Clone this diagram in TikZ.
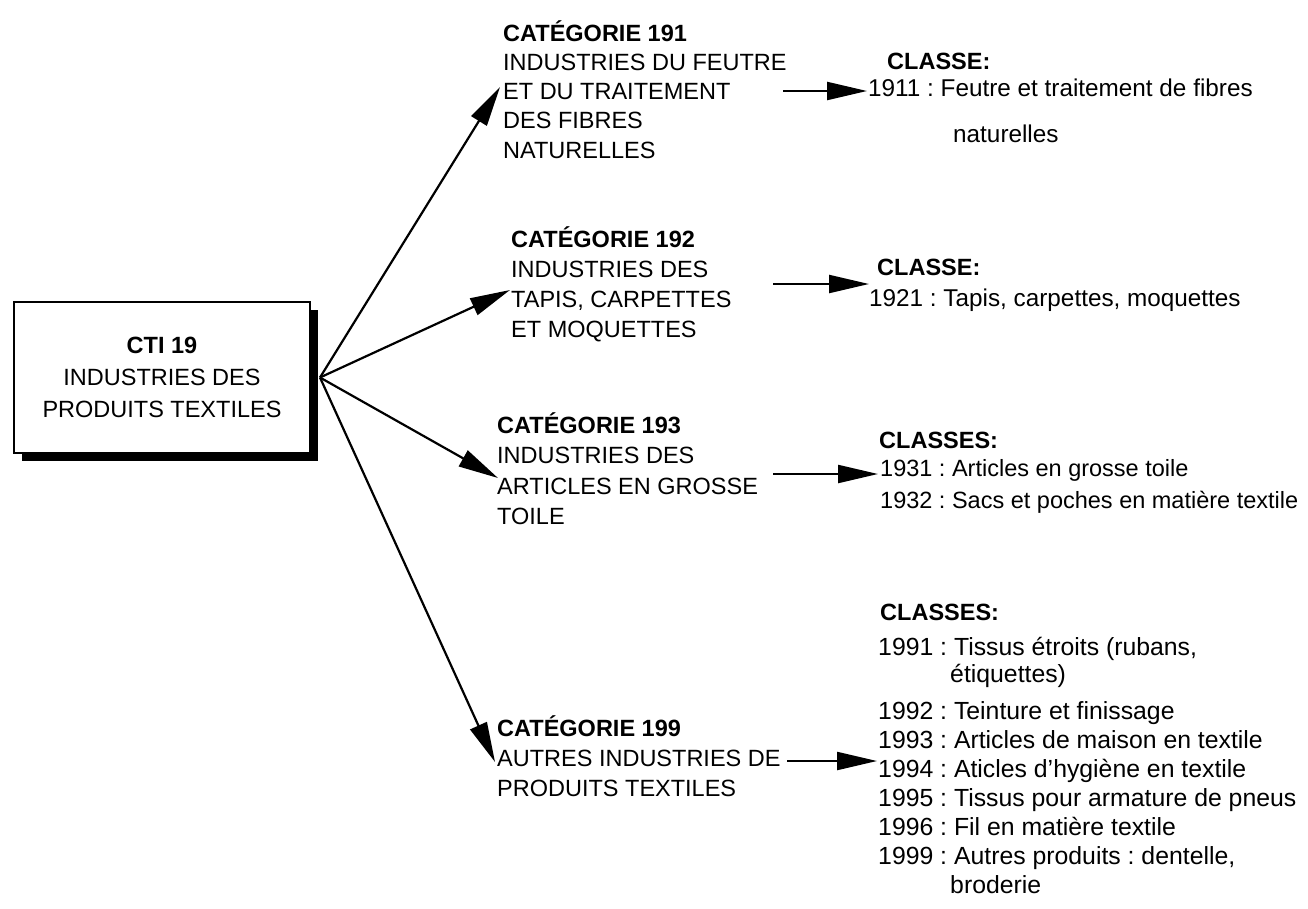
\documentclass[tikz,border=0pt]{standalone}
\usepackage{fontspec}
\setmainfont{Liberation Sans}
\frenchspacing
\usetikzlibrary{arrows.meta}
\usetikzlibrary{shadows}
\usetikzlibrary{positioning}

\tikzset{
  txt/.style={anchor=north west, inner sep=0pt, align=left,
    font=\fontsize{23.5}{30}\selectfont,
    execute at begin node=\rule{0pt}{22pt}},
  link/.style={line width=2.2pt, -{Triangle[length=40pt,width=18pt]}},
  ctibox/.style={draw, line width=2pt, fill=white, inner sep=0pt,
    minimum width=296pt, minimum height=151pt, align=center,
    font=\fontsize{23.5}{32}\selectfont,
    general shadow={fill=black, shadow xshift=8pt, shadow yshift=-8pt}},
}

\begin{document}
\begin{tikzpicture}[x=1pt, y=-1pt]
    \useasboundingbox (0,0) rectangle (1308,908);

    \node[ctibox] (cti) at (162,377.5) {\textbf{CTI 19}\\INDUSTRIES DES\\PRODUITS TEXTILES};
    \coordinate[right=9pt of cti.east] (hub);

    % categories
    \node[txt, font=\fontsize{23.5}{29.3}\selectfont] (cat191) at (503,20)
      {\textbf{CATÉGORIE 191}\\INDUSTRIES DU FEUTRE\\ET DU TRAITEMENT\\DES FIBRES\\NATURELLES};
    \node[txt] (cat192) at (511,226)
      {\textbf{CATÉGORIE 192}\\INDUSTRIES DES\\TAPIS, CARPETTES\\ET MOQUETTES};
    \node[txt, font=\fontsize{23.5}{30.5}\selectfont] (cat193) at (497,412)
      {\textbf{CATÉGORIE 193}\\INDUSTRIES DES\\ARTICLES EN GROSSE\\TOILE};
    \node[txt] (cat199) at (497,715)
      {\textbf{CATÉGORIE 199}\\AUTRES INDUSTRIES DE\\PRODUITS TEXTILES};

    % classes
    \node[txt] (cls191) at (887,47) {\textbf{CLASSE:}};
    \node[txt, font=\fontsize{24.3}{30}\selectfont] (its191) at (868,79)
      {1911 : Feutre et traitement de fibres\\[16pt]\hspace*{85pt}naturelles};
    \node[txt] (cls192) at (877,253) {\textbf{CLASSE:}};
    \node[txt, font=\fontsize{24.3}{30}\selectfont] (its192) at (869,284)
      {1921 : Tapis, carpettes, moquettes};
    \node[txt] (cls193) at (879,426) {\textbf{CLASSES:}};
    \node[txt, font=\fontsize{23.5}{32}\selectfont] (its193) at (880,459)
      {1931 : Articles en grosse toile\\1932 : Sacs et poches en matière textile};
    \node[txt] (cls199) at (880,598) {\textbf{CLASSES:}};
    \node[txt, font=\fontsize{24.8}{29}\selectfont] (its199) at (878,637)
      {1991 : Tissus étroits (rubans,\\[-2pt]
       \hspace*{72pt}étiquettes)\\[8pt]
       1992 : Teinture et finissage\\
       1993 : Articles de maison en textile\\
       1994 : Aticles d'hygiène en textile\\
       1995 : Tissus pour armature de pneus\\
       1996 : Fil en matière textile\\
       1999 : Autres produits : dentelle,\\
       \hspace*{72pt}broderie};

    % arrow ends
    \coordinate (in191) at (500,87);
    \coordinate (in192) at (510,290);
    \coordinate (in193) at (498,478);
    \coordinate (in199) at (495,762);
    \coordinate (out191) at (783,91);
    \coordinate (to191) at (867,91);
    \coordinate (out192) at (773,284);
    \coordinate (to192) at (869,284);
    \coordinate (out193) at (773,474);
    \coordinate (to193) at (878,474);
    \coordinate (out199) at (787,761);
    \coordinate (to199) at (877,761);

    \foreach \c in {191,192,193,199}{
      \draw[link] (hub) -- (in\c);
      \draw[link] (out\c) -- (to\c);
    }
\end{tikzpicture}
\end{document}
